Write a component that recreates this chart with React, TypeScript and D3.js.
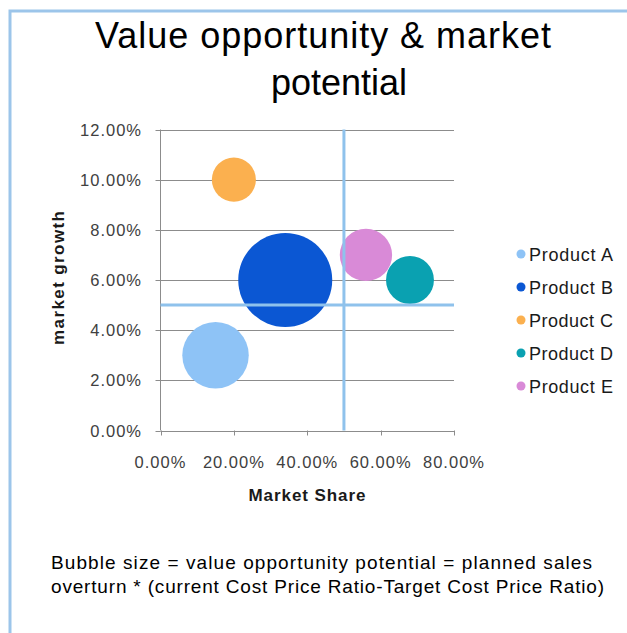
import React from "react";
import * as d3 from "d3";

const products = ["Product A", "Product B", "Product C", "Product D", "Product E"];
const marketShare = [0.15, 0.34, 0.2, 0.68, 0.56];
const marketGrowth = [0.03, 0.06, 0.1, 0.06, 0.07];
const bubbleSize = [50, 100, 22, 26, 31];
const colors = ["#8ec3f6", "#0b57d3", "#fbb04f", "#0aa1b1", "#d98ad7"];
const xTicks = [0, 0.2, 0.4, 0.6, 0.8];
const yTicks = [0, 0.02, 0.04, 0.06, 0.08, 0.1, 0.12];
const refShare = 0.5;
const refGrowth = 0.05;

export default function App() {
  const x = d3.scaleLinear().domain([0, 0.8]).range([160.5, 454]);
  const y = d3.scaleLinear().domain([0, 0.12]).range([430.5, 129.5]);
  const r = d3.scaleSqrt().domain([0, d3.max(bubbleSize) as number]).range([0, 47]);
  const fmt = d3.format(".2%");
  const font = "'Liberation Sans', Arial, sans-serif";
  const order = d3.range(products.length).sort((a, b) => bubbleSize[b] - bubbleSize[a]);

  return (
    <svg width={627} height={633} style={{ position: "absolute", left: 0, top: 0, background: "#fff" }} fontFamily={font}>
      <rect x={10} y={11} width={640} height={640} fill="#fff" stroke="#9cc5ea" strokeWidth={3} />
      <text x={323} y={48} textAnchor="middle" fontSize={36} fill="#000" textLength={456} lengthAdjust="spacing">Value opportunity &amp; market</text>
      <text x={339} y={95} textAnchor="middle" fontSize={36} fill="#000">potential</text>

      {yTicks.map((t) => (
        <g key={"y" + t}>
          <line x1={x(0)} x2={x(0.8)} y1={Math.round(y(t)) + 0.5} y2={Math.round(y(t)) + 0.5} stroke="#8c8c8c" strokeWidth={1} />
          <line x1={x(0) - 5} x2={x(0)} y1={Math.round(y(t)) + 0.5} y2={Math.round(y(t)) + 0.5} stroke="#8c8c8c" />
          <text x={142} y={y(t) + 6} textAnchor="end" fontSize={16.5} letterSpacing={1} fill="#404040">{fmt(t)}</text>
        </g>
      ))}
      <line x1={x(0)} x2={x(0)} y1={y(0.12)} y2={y(0)} stroke="#8c8c8c" />
      {xTicks.map((t) => (
        <g key={"x" + t}>
          <line x1={Math.round(x(t)) + 0.5} x2={Math.round(x(t)) + 0.5} y1={y(0)} y2={y(0) + 5} stroke="#8c8c8c" />
          <text x={x(t)} y={468} textAnchor="middle" fontSize={16.5} letterSpacing={1} fill="#404040">{fmt(t)}</text>
        </g>
      ))}

      {order.map((i) => (
        <circle key={products[i]} cx={x(marketShare[i])} cy={y(marketGrowth[i])} r={r(bubbleSize[i])} fill={colors[i]} />
      ))}

      <line x1={x(refShare)} x2={x(refShare)} y1={y(0.12)} y2={y(0)} stroke="#8fc2ec" strokeWidth={3} />
      <line x1={x(0)} x2={x(0.8)} y1={y(refGrowth)} y2={y(refGrowth)} stroke="#8fc2ec" strokeWidth={3} />

      <text x={307} y={501} textAnchor="middle" fontSize={17} fontWeight="bold" fill="#1a1a1a" textLength={117} lengthAdjust="spacing">Market Share</text>
      <text transform={`translate(64,278) rotate(-90)`} textAnchor="middle" fontSize={17} fontWeight="bold" fill="#1a1a1a" textLength={134} lengthAdjust="spacing">market growth</text>

      {products.map((p, i) => (
        <g key={"lg" + p} transform={`translate(0,${254 + i * 33})`}>
          <circle cx={521} cy={0} r={4.5} fill={colors[i]} />
          <text x={529} y={6.5} fontSize={18} fill="#1a1a1a" textLength={84} lengthAdjust="spacing">{p}</text>
        </g>
      ))}

      <text x={51} y={569} fontSize={19} fill="#000" textLength={541} lengthAdjust="spacing">Bubble size = value opportunity potential = planned sales</text>
      <text x={51} y={593} fontSize={19} fill="#000" textLength={553} lengthAdjust="spacing">overturn * (current Cost Price Ratio-Target Cost Price Ratio)</text>
    </svg>
  );
}
